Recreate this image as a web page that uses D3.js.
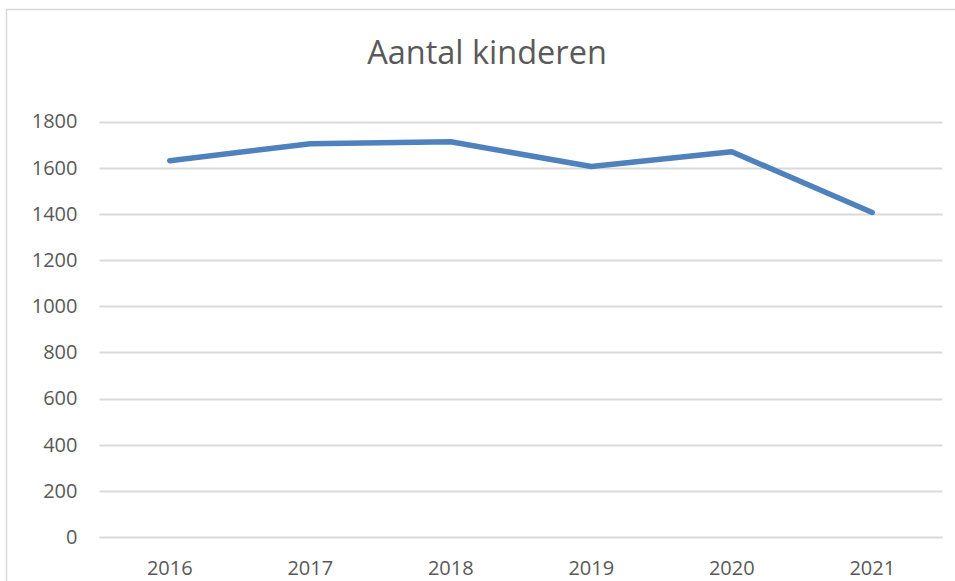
<!DOCTYPE html>
<html>
<head>
<meta charset="utf-8">
<script src="https://cdn.jsdelivr.net/npm/d3@7"></script>
<style>
  body { margin: 0; background: #fff; }
  svg text { font-family: "Open Sans", "Noto Sans", sans-serif; fill: #595959; }
</style>
</head>
<body>
<svg id="chart"></svg>
<script>
const years = ["2016", "2017", "2018", "2019", "2020", "2021"];
const kinderen = [1630, 1704, 1712, 1605, 1669, 1406];
const yTicks = [0, 200, 400, 600, 800, 1000, 1200, 1400, 1600, 1800];
const title = "Aantal kinderen";

const width = 955, height = 581;
const margin = {top: 121.5, right: 12.5, bottom: 44, left: 99.5};

const svg = d3.select("#chart")
    .attr("width", width)
    .attr("height", height);

// chart border (runs off the right and bottom edge)
svg.append("rect")
    .attr("x", 6.5)
    .attr("y", 9.5)
    .attr("width", 960)
    .attr("height", 600)
    .attr("fill", "none")
    .attr("stroke", "#d9d9d9")
    .attr("stroke-width", 1.5);

const x = d3.scaleBand()
    .domain(years)
    .range([margin.left, width - margin.right]);

const y = d3.scaleLinear()
    .domain([0, 1800])
    .range([height - margin.bottom, margin.top]);

// gridlines
svg.append("g")
    .selectAll("line")
    .data(yTicks)
    .join("line")
    .attr("x1", margin.left)
    .attr("x2", width - margin.right)
    .attr("y1", d => Math.round(y(d)) + 0.5)
    .attr("y2", d => Math.round(y(d)) + 0.5)
    .attr("stroke", "#d9d9d9")
    .attr("stroke-width", 2);

// y axis labels
const yAxis = svg.append("g")
    .attr("transform", `translate(${margin.left},0)`)
    .call(d3.axisLeft(y).tickValues(yTicks).tickFormat(d3.format("d")).tickSize(0).tickPadding(22));
yAxis.select(".domain").remove();
yAxis.selectAll("text")
    .attr("font-size", 20)
    .attr("fill", "#595959")
    .attr("font-family", "\"Open Sans\", sans-serif");

// x axis labels
const xAxis = svg.append("g")
    .attr("transform", `translate(0,${height - margin.bottom})`)
    .call(d3.axisBottom(x).tickSize(0).tickPadding(24));
xAxis.select(".domain").remove();
xAxis.selectAll("text")
    .attr("font-size", 20)
    .attr("fill", "#595959")
    .attr("font-family", "\"Open Sans\", sans-serif");

// line
const line = d3.line()
    .x((d, i) => x(years[i]) + x.bandwidth() / 2)
    .y(d => y(d));

svg.append("path")
    .datum(kinderen)
    .attr("d", line)
    .attr("fill", "none")
    .attr("stroke", "#4f81bd")
    .attr("stroke-width", 5.5)
    .attr("stroke-linecap", "round")
    .attr("stroke-linejoin", "round");

// title
svg.append("text")
    .attr("x", 487)
    .attr("y", 64)
    .attr("text-anchor", "middle")
    .attr("font-size", 32.5)
    .text(title);
</script>
</body>
</html>
